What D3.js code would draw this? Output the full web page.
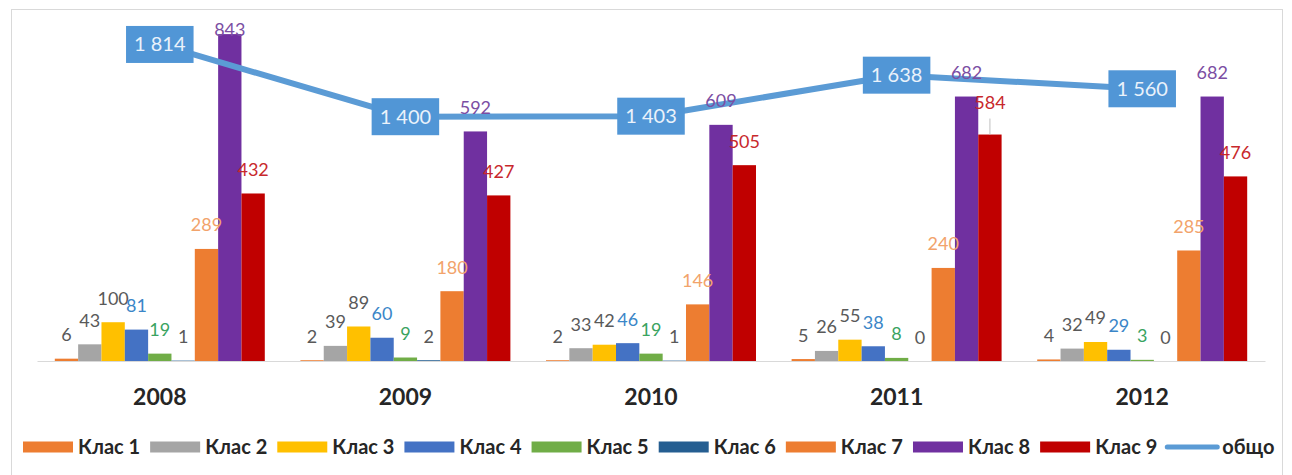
<!DOCTYPE html>
<html>
<head>
<meta charset="utf-8">
<script src="https://cdn.jsdelivr.net/npm/d3@7/dist/d3.min.js"></script>
<style>
  html, body { margin: 0; padding: 0; background: #ffffff; }
  svg { display: block; font-family: Lato, "Noto Sans", "Open Sans", sans-serif; }
</style>
</head>
<body>
<svg id="chart" width="1292" height="475"></svg>
<script>
// Students per class, by school year
const years = ["2008", "2009", "2010", "2011", "2012"];
const seriesNames = ["Клас 1", "Клас 2", "Клас 3", "Клас 4", "Клас 5", "Клас 6", "Клас 7", "Клас 8", "Клас 9"];
const klas1 = [6, 2, 2, 5, 4];
const klas2 = [43, 39, 33, 26, 32];
const klas3 = [100, 89, 42, 55, 49];
const klas4 = [81, 60, 46, 38, 29];
const klas5 = [19, 9, 19, 8, 3];
const klas6 = [1, 2, 1, 0, 0];
const klas7 = [289, 180, 146, 240, 285];
const klas8 = [843, 592, 609, 682, 682];
const klas9 = [432, 427, 505, 584, 476];
const totalName = "общо";
const total = [1814, 1400, 1403, 1638, 1560];

const seriesValues = [klas1, klas2, klas3, klas4, klas5, klas6, klas7, klas8, klas9];

// styling
const barColors = ["#ED7D31", "#A5A5A5", "#FFC000", "#4472C4", "#70AD47", "#255E91", "#ED7D31", "#7030A0", "#C00000"];
const labelColors = ["#595959", "#595959", "#595959", "#3a86c8", "#3aa35f", "#595959", "#f2a36b", "#7b4ea3", "#c8282c"];
const lineColor = "#5B9BD5";

const svg = d3.select("#chart");

// chart frame
svg.append("rect")
  .attr("x", 11.5).attr("y", 9.5)
  .attr("width", 1271).attr("height", 480)
  .attr("fill", "#ffffff").attr("stroke", "#d9d9d9");

const plot = { left: 37, right: 1265, top: 12, bottom: 361 };

const x = d3.scaleBand().domain(years).range([plot.left, plot.right]).padding(0);
const groupInset = x.bandwidth() * 0.0725;
const xSub = d3.scaleBand().domain(d3.range(seriesNames.length))
  .range([groupInset, x.bandwidth() - groupInset]).padding(0);

const y = d3.scaleLinear().domain([0, 900]).range([plot.bottom, plot.top]);
const y2 = d3.scaleLinear().domain([0, 2000]).range([plot.bottom, plot.top]);

// category axis (line only, no ticks)
const xAxis = d3.axisBottom(x).tickSize(0).tickPadding(0).tickFormat("");
const axisG = svg.append("g").attr("transform", `translate(0,${plot.bottom})`).call(xAxis);
axisG.select(".domain").attr("stroke", "#d9d9d9").attr("stroke-width", 1.2);

// year labels
svg.append("g").selectAll("text").data(years).join("text")
  .attr("x", d => x(d) + x.bandwidth() / 2)
  .attr("y", 405)
  .attr("text-anchor", "middle")
  .attr("font-size", 23)
  .attr("font-weight", 700)
  .attr("fill", "#262626")
  .text(d => d);

// bars
const bars = [];
seriesValues.forEach((vals, s) => {
  vals.forEach((v, i) => bars.push({ s, year: years[i], v }));
});

svg.append("g").selectAll("rect").data(bars).join("rect")
  .attr("x", d => x(d.year) + xSub(d.s))
  .attr("y", d => y(d.v))
  .attr("width", xSub.bandwidth())
  .attr("height", d => y(0) - y(d.v))
  .attr("fill", d => barColors[d.s]);

// total line
const linePts = years.map((yr, i) => [x(yr) + x.bandwidth() / 2, y2(total[i])]);
svg.append("path")
  .attr("d", d3.line()(linePts))
  .attr("fill", "none")
  .attr("stroke", lineColor)
  .attr("stroke-width", 6)
  .attr("stroke-linejoin", "round")
  .attr("stroke-linecap", "round");

// total labels in boxes
const fmt = v => d3.format(",")(v).replace(/,/g, "\u00a0");
const boxG = svg.append("g");
years.forEach((yr, i) => {
  const [cx, cy] = linePts[i];
  const g = boxG.append("g");
  const t = g.append("text")
    .attr("x", cx).attr("y", cy + 7)
    .attr("text-anchor", "middle")
    .attr("font-size", 20)
    .attr("fill", "#eaf2fb")
    .text(fmt(total[i]));
  const w = t.node().getComputedTextLength() + 16;
  g.insert("rect", "text")
    .attr("x", cx - w / 2).attr("y", cy - 18.5)
    .attr("width", w).attr("height", 37)
    .attr("fill", "#5196d6");
});

// bar value labels
const labelLift = 24;
const labelTopLimit = 29;
const leaderLabel = { s: 8, year: "2011", lift: 32 };
const labG = svg.append("g");
bars.forEach(d => {
  const cx = x(d.year) + xSub(d.s) + xSub.bandwidth() / 2;
  const top = y(d.v);
  let lift = labelLift;
  const isLeader = d.s === leaderLabel.s && d.year === leaderLabel.year;
  if (isLeader) lift = leaderLabel.lift;
  const cy = Math.max(top - lift, labelTopLimit);
  if (isLeader) {
    labG.append("line")
      .attr("x1", cx).attr("x2", cx)
      .attr("y1", cy + 16).attr("y2", top)
      .attr("stroke", "#bfbfbf").attr("stroke-width", 1);
  }
  labG.append("text")
    .attr("x", cx).attr("y", cy + 6.5)
    .attr("text-anchor", "middle")
    .attr("font-size", 18)
    .attr("fill", labelColors[d.s])
    .text(d.v);
});

// legend
const legend = svg.append("g");
let lx = 23;
const ly = 447;
seriesNames.forEach((name, s) => {
  legend.append("rect")
    .attr("x", lx).attr("y", ly - 5.5)
    .attr("width", 50).attr("height", 11)
    .attr("fill", barColors[s]);
  const t = legend.append("text")
    .attr("x", lx + 55).attr("y", ly + 7)
    .attr("font-size", 20).attr("font-weight", 700)
    .attr("fill", "#262626")
    .text(name);
  lx += 55 + t.node().getComputedTextLength() + 10;
});
legend.append("line")
  .attr("x1", lx).attr("x2", lx + 50)
  .attr("y1", ly).attr("y2", ly)
  .attr("stroke", lineColor).attr("stroke-width", 5)
  .attr("stroke-linecap", "round");
legend.append("text")
  .attr("x", lx + 55).attr("y", ly + 7)
  .attr("font-size", 20).attr("font-weight", 700)
  .attr("fill", "#262626")
  .text(totalName);
</script>
</body>
</html>
